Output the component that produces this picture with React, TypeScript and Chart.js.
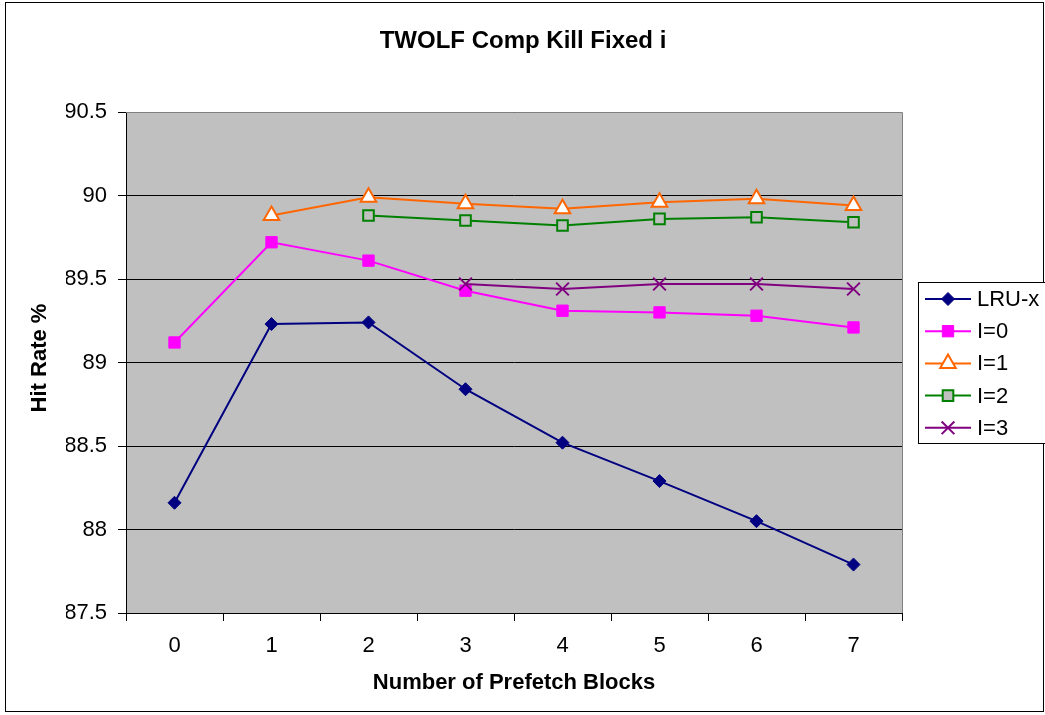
import React, { useEffect, useRef } from 'react';
import { Chart, registerables } from 'chart.js';

Chart.register(...registerables);

const categories = ['0', '1', '2', '3', '4', '5', '6', '7'];
const lruX = [88.16, 89.23, 89.24, 88.84, 88.52, 88.29, 88.05, 87.79];
const i0 = [89.12, 89.72, 89.61, 89.43, 89.31, 89.3, 89.28, 89.21];
const i1 = [null, 89.88, 89.99, 89.95, 89.92, 89.96, 89.98, 89.94];
const i2 = [null, null, 89.88, 89.85, 89.82, 89.86, 89.87, 89.84];
const i3 = [null, null, null, 89.47, 89.44, 89.47, 89.47, 89.44];
const seriesLabels = ['LRU-x', 'I=0', 'I=1', 'I=2', 'I=3'];
const yMin = 87.5;
const yMax = 90.5;
const yStep = 0.5;
const titleText = 'TWOLF Comp Kill Fixed i';
const xTitleText = 'Number of Prefetch Blocks';
const yTitleText = 'Hit Rate %';

const FONT = '"Liberation Sans", Arial, sans-serif';

type Sty = {
  color: string;
  style: string;
  radius: number;
  fill: string;
  bw: number;
};

const styles: Sty[] = [
  { color: '#000080', style: 'rectRot', radius: 6.5, fill: '#000080', bw: 1 },
  { color: '#FF00FF', style: 'rect', radius: 8, fill: '#FF00FF', bw: 1 },
  { color: '#FF6600', style: 'triangle', radius: 9, fill: '#FFFFFF', bw: 2 },
  { color: '#008000', style: 'rect', radius: 7.5, fill: '#C0C0C0', bw: 2 },
  { color: '#800080', style: 'crossRot', radius: 9, fill: '#800080', bw: 2 },
];

function drawMarker(ctx: CanvasRenderingContext2D, s: Sty, x: number, y: number) {
  const r = s.radius;
  ctx.save();
  ctx.beginPath();
  ctx.lineWidth = s.bw;
  ctx.strokeStyle = s.color;
  ctx.fillStyle = s.fill;
  if (s.style === 'rect') {
    const h = Math.SQRT1_2 * r;
    ctx.rect(x - h, y - h, 2 * h, 2 * h);
    ctx.fill();
    ctx.stroke();
  } else if (s.style === 'rectRot') {
    ctx.moveTo(x - r, y);
    ctx.lineTo(x, y - r);
    ctx.lineTo(x + r, y);
    ctx.lineTo(x, y + r);
    ctx.closePath();
    ctx.fill();
    ctx.stroke();
  } else if (s.style === 'triangle') {
    ctx.moveTo(x, y - r);
    ctx.lineTo(x + r * Math.cos(Math.PI / 6), y + r / 2);
    ctx.lineTo(x - r * Math.cos(Math.PI / 6), y + r / 2);
    ctx.closePath();
    ctx.fill();
    ctx.stroke();
  } else if (s.style === 'crossRot') {
    const d = r * Math.SQRT1_2;
    ctx.moveTo(x - d, y - d);
    ctx.lineTo(x + d, y + d);
    ctx.moveTo(x + d, y - d);
    ctx.lineTo(x - d, y + d);
    ctx.stroke();
  }
  ctx.restore();
}

const decorPlugin = {
  id: 'decor',
  beforeDraw(chart: any) {
    const { ctx, chartArea } = chart;
    ctx.save();
    ctx.fillStyle = '#FFFFFF';
    ctx.fillRect(0, 0, chart.width, chart.height);
    ctx.fillStyle = '#C0C0C0';
    ctx.fillRect(chartArea.left, chartArea.top, chartArea.right - chartArea.left, chartArea.bottom - chartArea.top);
    ctx.restore();
  },
  beforeDatasetsDraw(chart: any) {
    const { ctx, chartArea } = chart;
    ctx.save();
    ctx.strokeStyle = '#808080';
    ctx.lineWidth = 1;
    ctx.beginPath();
    ctx.moveTo(chartArea.left, chartArea.top + 0.5);
    ctx.lineTo(chartArea.right + 0.5, chartArea.top + 0.5);
    ctx.lineTo(chartArea.right + 0.5, chartArea.bottom);
    ctx.stroke();
    ctx.restore();
  },
  afterDraw(chart: any) {
    const { ctx, chartArea } = chart;
    ctx.save();
    ctx.strokeStyle = '#000000';
    ctx.lineWidth = 1;
    ctx.strokeRect(5.5, 2.5, 1038, 709);
    ctx.fillStyle = '#000000';
    ctx.textAlign = 'center';
    ctx.textBaseline = 'middle';
    ctx.font = `bold 24px ${FONT}`;
    ctx.fillText(titleText, 523, 41);
    ctx.font = `bold 22px ${FONT}`;
    ctx.fillText(xTitleText, (chartArea.left + chartArea.right) / 2, 683);
    ctx.save();
    ctx.translate(40, 358);
    ctx.rotate(-Math.PI / 2);
    ctx.fillText(yTitleText, 0, 0);
    ctx.restore();
    const lx = 918.5;
    const ly = 282.5;
    ctx.fillStyle = '#FFFFFF';
    ctx.fillRect(lx, ly, 140, 161);
    ctx.strokeStyle = '#000000';
    ctx.strokeRect(lx, ly, 140, 161);
    ctx.font = `22px ${FONT}`;
    ctx.textAlign = 'left';
    ctx.textBaseline = 'middle';
    seriesLabels.forEach((lab, k) => {
      const s = styles[k];
      const yy = 299 + k * 32.2;
      ctx.strokeStyle = s.color;
      ctx.lineWidth = 2;
      ctx.beginPath();
      ctx.moveTo(925, yy);
      ctx.lineTo(971, yy);
      ctx.stroke();
      drawMarker(ctx, s, 948, yy);
      ctx.fillStyle = '#000000';
      ctx.fillText(lab, 977, yy + 1);
    });
    ctx.restore();
  },
};

export default function App() {
  const ref = useRef<HTMLCanvasElement | null>(null);
  useEffect(() => {
    document.body.style.margin = '0';
    const canvas = ref.current;
    if (!canvas) return;
    const seriesData = [lruX, i0, i1, i2, i3];
    const chart = new Chart(canvas, {
      type: 'line',
      data: {
        labels: categories,
        datasets: seriesData.map((d, k) => ({
          label: seriesLabels[k],
          data: d,
          borderColor: styles[k].color,
          backgroundColor: styles[k].fill,
          borderWidth: 2,
          pointStyle: styles[k].style as any,
          pointRadius: styles[k].radius,
          pointBorderWidth: styles[k].bw,
          pointBorderColor: styles[k].color,
          pointBackgroundColor: styles[k].fill,
          tension: 0,
          fill: false,
          order: 4 - k,
        })),
      },
      options: {
        responsive: false,
        animation: false,
        devicePixelRatio: 1,
        layout: { padding: { top: 112, left: 66, right: 143, bottom: 42 } },
        plugins: {
          legend: { display: false },
          title: { display: false },
          tooltip: { enabled: false },
        },
        scales: {
          x: {
            type: 'category',
            offset: true,
            grid: {
              offset: true,
              drawOnChartArea: false,
              drawTicks: true,
              tickLength: 8,
              color: '#000000',
            },
            border: { display: true, color: '#000000', width: 1 },
            ticks: {
              color: '#000000',
              font: { family: FONT, size: 22 },
              padding: 12,
              maxRotation: 0,
              autoSkip: false,
            },
            afterFit: (s: any) => {
              s.height = 60;
            },
          },
          y: {
            min: yMin,
            max: yMax,
            grid: { color: '#000000', tickLength: 8, lineWidth: 1 },
            border: { display: true, color: '#000000', width: 1 },
            ticks: {
              stepSize: yStep,
              color: '#000000',
              font: { family: FONT, size: 22 },
              padding: 11,
              callback: (v: any) => String(Number(v)),
            },
            afterFit: (s: any) => {
              s.width = 60;
            },
          },
        },
      },
      plugins: [decorPlugin],
    });
    return () => chart.destroy();
  }, []);
  return (
    <div style={{ width: 1045, height: 715 }}>
      <canvas ref={ref} width={1045} height={715} style={{ display: 'block' }} />
    </div>
  );
}
